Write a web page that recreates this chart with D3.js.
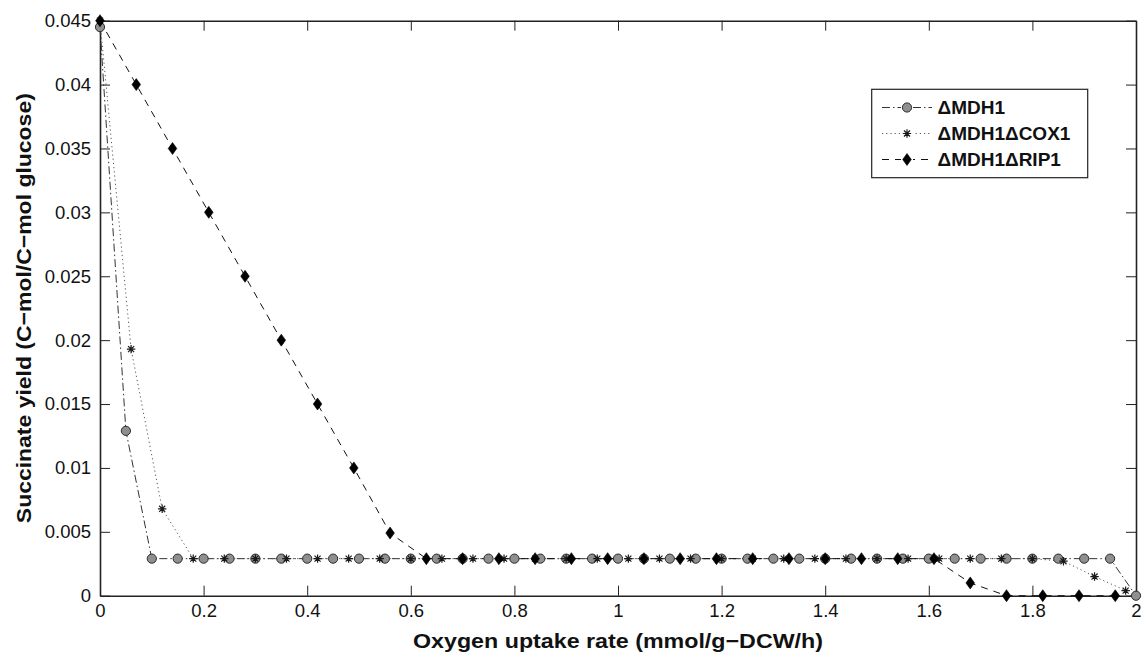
<!DOCTYPE html>
<html>
<head>
<meta charset="utf-8">
<title>Succinate yield vs oxygen uptake</title>
<script src="https://d3js.org/d3.v7.min.js"></script>
<style>
  html, body { margin: 0; padding: 0; background: #fff; }
  svg text { font-family: "Liberation Sans", Arial, Helvetica, sans-serif; fill: #111; }
</style>
</head>
<body>
<div id="chart"></div>
<script>
// ---- data ----
const mdhX = [0, 0.05, 0.1, 0.15, 0.2, 0.25, 0.3, 0.35, 0.4, 0.45, 0.5, 0.55, 0.6, 0.65, 0.7, 0.75, 0.8, 0.85, 0.9, 0.95,
              1.0, 1.05, 1.1, 1.15, 1.2, 1.25, 1.3, 1.35, 1.4, 1.45, 1.5, 1.55, 1.6, 1.65, 1.7, 1.75, 1.8, 1.85, 1.9, 1.95, 2.0];
const mdhY = [0.0445, 0.0129, 0.0029, 0.0029, 0.0029, 0.0029, 0.0029, 0.0029, 0.0029, 0.0029, 0.0029, 0.0029, 0.0029,
              0.0029, 0.0029, 0.0029, 0.0029, 0.0029, 0.0029, 0.0029, 0.0029, 0.0029, 0.0029, 0.0029, 0.0029, 0.0029,
              0.0029, 0.0029, 0.0029, 0.0029, 0.0029, 0.0029, 0.0029, 0.0029, 0.0029, 0.0029, 0.0029, 0.0029, 0.0029,
              0.0029, 0];

const coxX = [0, 0.06, 0.12, 0.18, 0.24, 0.3, 0.36, 0.42, 0.48, 0.54, 0.6, 0.66, 0.72, 0.78, 0.84, 0.9, 0.96,
              1.02, 1.08, 1.14, 1.2, 1.26, 1.32, 1.38, 1.44, 1.5, 1.56, 1.62, 1.68, 1.74, 1.8, 1.86, 1.92, 1.98];
const coxY = [0.045, 0.0193, 0.0068, 0.0029, 0.0029, 0.0029, 0.0029, 0.0029, 0.0029, 0.0029, 0.0029, 0.0029,
              0.0029, 0.0029, 0.0029, 0.0029, 0.0029, 0.0029, 0.0029, 0.0029, 0.0029, 0.0029, 0.0029, 0.0029,
              0.0029, 0.0029, 0.0029, 0.0029, 0.0029, 0.0029, 0.0029, 0.0027, 0.0015, 0.0004];

const ripX = [0, 0.07, 0.14, 0.21, 0.28, 0.35, 0.42, 0.49, 0.56, 0.63, 0.7, 0.77, 0.84, 0.91, 0.98,
              1.05, 1.12, 1.19, 1.26, 1.33, 1.4, 1.47, 1.54, 1.61, 1.68, 1.75, 1.82, 1.89, 1.96];
const ripY = [0.045, 0.04, 0.035, 0.03, 0.025, 0.02, 0.015, 0.01, 0.0049, 0.0029, 0.0029, 0.0029, 0.0029,
              0.0029, 0.0029, 0.0029, 0.0029, 0.0029, 0.0029, 0.0029, 0.0029, 0.0029, 0.0029, 0.0029,
              0.001, 0, 0, 0, 0];

const xTicks = [0, 0.2, 0.4, 0.6, 0.8, 1, 1.2, 1.4, 1.6, 1.8, 2];
const yTicks = [0, 0.005, 0.01, 0.015, 0.02, 0.025, 0.03, 0.035, 0.04, 0.045];
const seriesNames = ["\u0394MDH1", "\u0394MDH1\u0394COX1", "\u0394MDH1\u0394RIP1"];

// ---- layout ----
const width = 1142, height = 657;
const plotLeft = 100, plotRight = 1136, plotTop = 20.7, plotBottom = 595.7;

const svg = d3.select("#chart").append("svg")
    .attr("width", width)
    .attr("height", height);

const x = d3.scaleLinear().domain([0, 2]).range([plotLeft, plotRight]);
const y = d3.scaleLinear().domain([0, 0.045]).range([plotBottom, plotTop]);

const fmt = d3.format("~g");
const axisColor = "#222";

// axes with inward ticks, box all round
svg.append("g")
    .attr("transform", `translate(0,${plotBottom})`)
    .call(d3.axisBottom(x).tickValues(xTicks).tickSizeInner(-10).tickSizeOuter(0).tickPadding(8).tickFormat(fmt))
    .call(g => g.selectAll("text").attr("font-size", 18.5).attr("fill", "#111"));
svg.append("g")
    .attr("transform", `translate(0,${plotTop})`)
    .call(d3.axisTop(x).tickValues(xTicks).tickSizeInner(-10).tickSizeOuter(0).tickFormat(""));
svg.append("g")
    .attr("transform", `translate(${plotLeft},0)`)
    .call(d3.axisLeft(y).tickValues(yTicks).tickSizeInner(-10).tickSizeOuter(0).tickPadding(9).tickFormat(fmt))
    .call(g => g.selectAll("text").attr("font-size", 18.5).attr("fill", "#111"));
svg.append("g")
    .attr("transform", `translate(${plotRight},0)`)
    .call(d3.axisRight(y).tickValues(yTicks).tickSizeInner(-10).tickSizeOuter(0).tickFormat(""));

svg.selectAll(".domain").attr("stroke", axisColor).attr("stroke-width", 1.6);
svg.selectAll(".tick line").attr("stroke", axisColor).attr("stroke-width", 1);

// series
const series = [
    { name: seriesNames[0], xs: mdhX, ys: mdhY, dash: "8,3,1.5,3", stroke: "#333", marker: "circle" },
    { name: seriesNames[1], xs: coxX, ys: coxY, dash: "1.2,3", stroke: "#555", marker: "star" },
    { name: seriesNames[2], xs: ripX, ys: ripY, dash: "7,6", stroke: "#111", marker: "diamond" }
];

const line = d3.line().x(d => x(d[0])).y(d => y(d[1]));

function drawMarker(g, kind) {
    if (kind === "circle") {
        g.append("circle").attr("r", 4.6).attr("fill", "#8f8f8f").attr("stroke", "#2a2a2a").attr("stroke-width", 1);
    } else if (kind === "star") {
        const s = 4.2, d = s * 0.72;
        g.append("path")
            .attr("d", `M${-s},0L${s},0M0,${-s}L0,${s}M${-d},${-d}L${d},${d}M${-d},${d}L${d},${-d}`)
            .attr("stroke", "#1a1a1a").attr("stroke-width", 1.2).attr("fill", "none");
    } else {
        g.append("path").attr("d", "M0,-6L4.3,0L0,6L-4.3,0Z").attr("fill", "#000").attr("stroke", "#000").attr("stroke-width", 0.6);
    }
}

series.forEach(s => {
    const pts = s.xs.map((v, i) => [v, s.ys[i]]);
    svg.append("path")
        .datum(pts)
        .attr("d", line)
        .attr("fill", "none")
        .attr("stroke", s.stroke)
        .attr("stroke-width", 1)
        .attr("stroke-dasharray", s.dash);
});

series.forEach(s => {
    const pts = s.xs.map((v, i) => [v, s.ys[i]]);
    svg.append("g").selectAll("g")
        .data(pts)
        .join("g")
        .attr("transform", d => `translate(${x(d[0])},${y(d[1])})`)
        .each(function () { drawMarker(d3.select(this), s.marker); });
});

// legend
const lg = svg.append("g");
lg.append("rect")
    .attr("x", 871.7).attr("y", 89.3)
    .attr("width", 216).attr("height", 88.4)
    .attr("fill", "#fff").attr("stroke", "#222").attr("stroke-width", 1.2);
series.forEach((s, i) => {
    const cy = 107.5 + i * 26;
    lg.append("line")
        .attr("x1", 882).attr("x2", 932).attr("y1", cy).attr("y2", cy)
        .attr("stroke", s.stroke).attr("stroke-width", 1).attr("stroke-dasharray", s.dash);
    const m = lg.append("g").attr("transform", `translate(907,${cy})`);
    m.append("rect").attr("x", -6).attr("y", -6).attr("width", 12).attr("height", 12).attr("fill", "#fff");
    drawMarker(m, s.marker);
    lg.append("text")
        .attr("x", 937.5).attr("y", cy)
        .attr("dy", "0.36em")
        .attr("font-size", 19).attr("font-weight", "bold")
        .text(s.name);
});

// axis titles
svg.append("text")
    .attr("x", (plotLeft + plotRight) / 2).attr("y", 648)
    .attr("text-anchor", "middle")
    .attr("font-size", 21).attr("font-weight", "bold")
    .attr("textLength", 410).attr("lengthAdjust", "spacingAndGlyphs")
    .text("Oxygen uptake rate (mmol/g\u2212DCW/h)");

svg.append("text")
    .attr("transform", `translate(31,${(plotTop + plotBottom) / 2}) rotate(-90)`)
    .attr("text-anchor", "middle")
    .attr("font-size", 21).attr("font-weight", "bold")
    .attr("textLength", 430).attr("lengthAdjust", "spacingAndGlyphs")
    .text("Succinate yield (C\u2212mol/C\u2212mol glucose)");
</script>
</body>
</html>
